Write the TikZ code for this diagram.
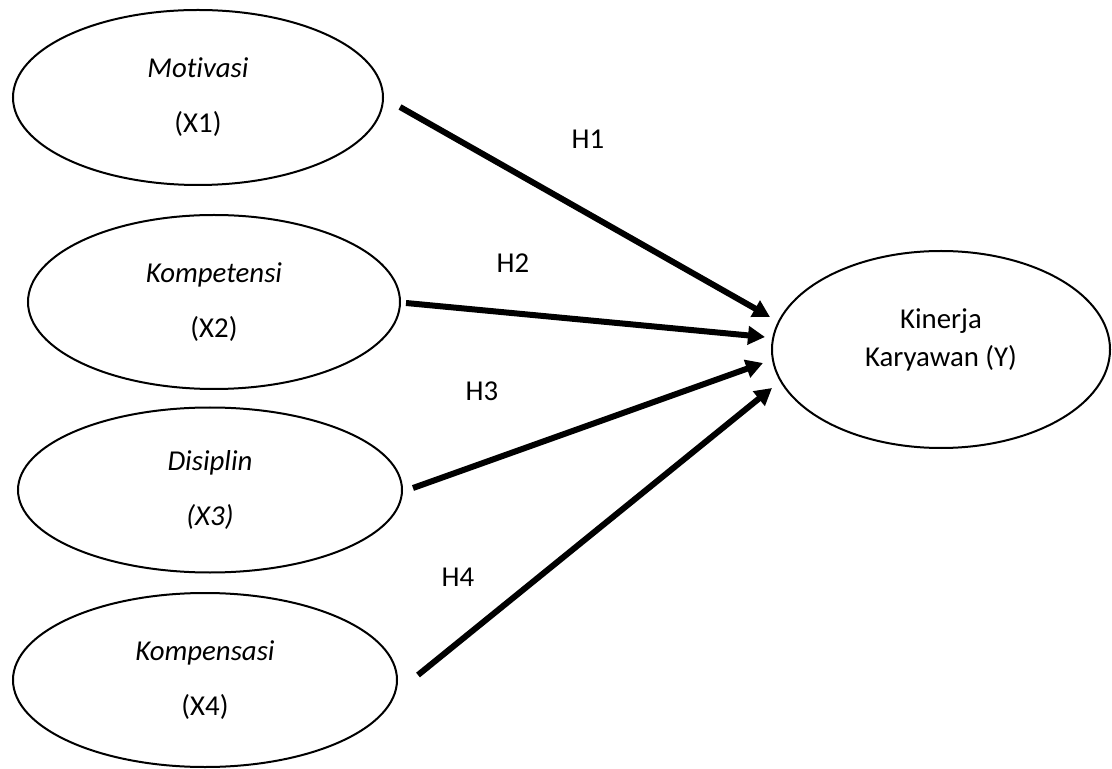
\documentclass[tikz,border=0pt]{standalone}
\usepackage{fontspec}
\setmainfont{Carlito}[Ligatures=NoCommon]
\usetikzlibrary{shapes.geometric,arrows.meta}
\tikzset{
  var/.style={ellipse,draw,line width=1pt,inner sep=0pt,align=center,
    font=\fontsize{14.4}{27.5}\selectfont},
  dep/.style={ellipse,draw,line width=1pt,inner sep=0pt,align=center,
    font=\fontsize{14.4}{19}\selectfont},
  path/.style={line width=3pt,-{Triangle[length=8.5pt,width=9pt]}},
  hyp/.style={font=\fontsize{14.4}{17}\selectfont,inner sep=0pt}
}
\begin{document}
\begin{tikzpicture}[x=0.5pt,y=-0.5pt]
\useasboundingbox (0,0) rectangle (1112,769);
\node[var,minimum width=185pt,minimum height=87.5pt] (x1) at (198,97.5) {\textit{Motivasi}\\(X1)};
\node[var,minimum width=186pt,minimum height=87pt] (x2) at (214,302) {\textit{Kompetensi}\\(X2)};
\node[var,minimum width=192pt,minimum height=82.5pt] (x3) at (210,490) {\textit{Disiplin}\\\textit{(X3)}};
\node[var,minimum width=192pt,minimum height=87pt] (x4) at (205,680) {\textit{Kompensasi}\\(X4)};
\node[dep,minimum width=169pt,minimum height=98.5pt] (y) at (941,349.5) {\raisebox{0pt}[\height][\dimexpr\depth+10pt\relax]{\begin{tabular}{@{}c@{}}Kinerja\\Karyawan (Y)\end{tabular}}};
\coordinate (s1) at (400,107);
\coordinate (s2) at (406,303);
\coordinate (s3) at (413,488);
\coordinate (s4) at (418,675);
\coordinate (t1) at (770,317);
\coordinate (t2) at (765,337);
\coordinate (t3) at (763,363);
\coordinate (t4) at (772,388);
\draw[path] (s1) -- (t1);
\draw[path] (s2) -- (t2);
\draw[path] (s3) -- (t3);
\draw[path] (s4) -- (t4);
\node[hyp] (h1) at (588,139) {H1};
\node[hyp] (h2) at (513,263) {H2};
\node[hyp] (h3) at (482,391) {H3};
\node[hyp] (h4) at (458,577) {H4};
\end{tikzpicture}
\end{document}
